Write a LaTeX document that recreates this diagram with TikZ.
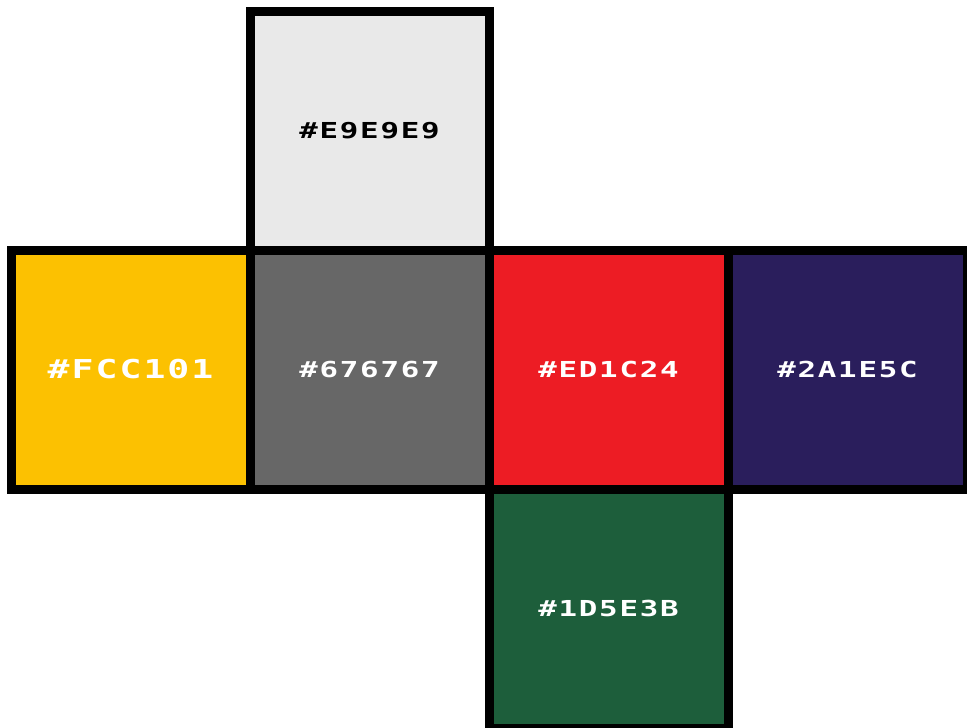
\documentclass[tikz,border=0pt]{standalone}
\usepackage{fontspec}
\newfontfamily\pix[FakeStretch=1.4,LetterSpace=8]{DejaVu Sans Mono}
\definecolor{cE9}{HTML}{E9E9E9}
\definecolor{cFC}{HTML}{FCC101}
\definecolor{c67}{HTML}{676767}
\definecolor{cED}{HTML}{ED1C24}
\definecolor{c2A}{HTML}{2A1E5C}
\definecolor{c1D}{HTML}{1D5E3B}
\begin{document}
\begin{tikzpicture}[x=1pt,y=-1pt,
  face/.style={draw=black,line width=9pt,minimum size=239pt,inner sep=0pt,outer sep=0pt,
    font=\pix\bfseries\fontsize{22}{22}\selectfont,text=white}]
\useasboundingbox (0,0) rectangle (967,728);
\clip (0,0) rectangle (967,728);
\node[face,fill=cE9,text=black] (top) at (369.5,130.5) {\#E9E9E9};
\node[face,fill=cFC,font=\pix\bfseries\fontsize{26}{26}\selectfont] (left) at (130.5,369.5) {\#FCC101};
\node[face,fill=c67] (front) at (369.5,369.5) {\#676767};
\node[face,fill=cED] (right) at (608.5,369.5) {\#ED1C24};
\node[face,fill=c2A] (back) at (847.5,369.5) {\#2A1E5C};
\node[face,fill=c1D] (bottom) at (608.5,608.5) {\#1D5E3B};
\end{tikzpicture}
\end{document}
